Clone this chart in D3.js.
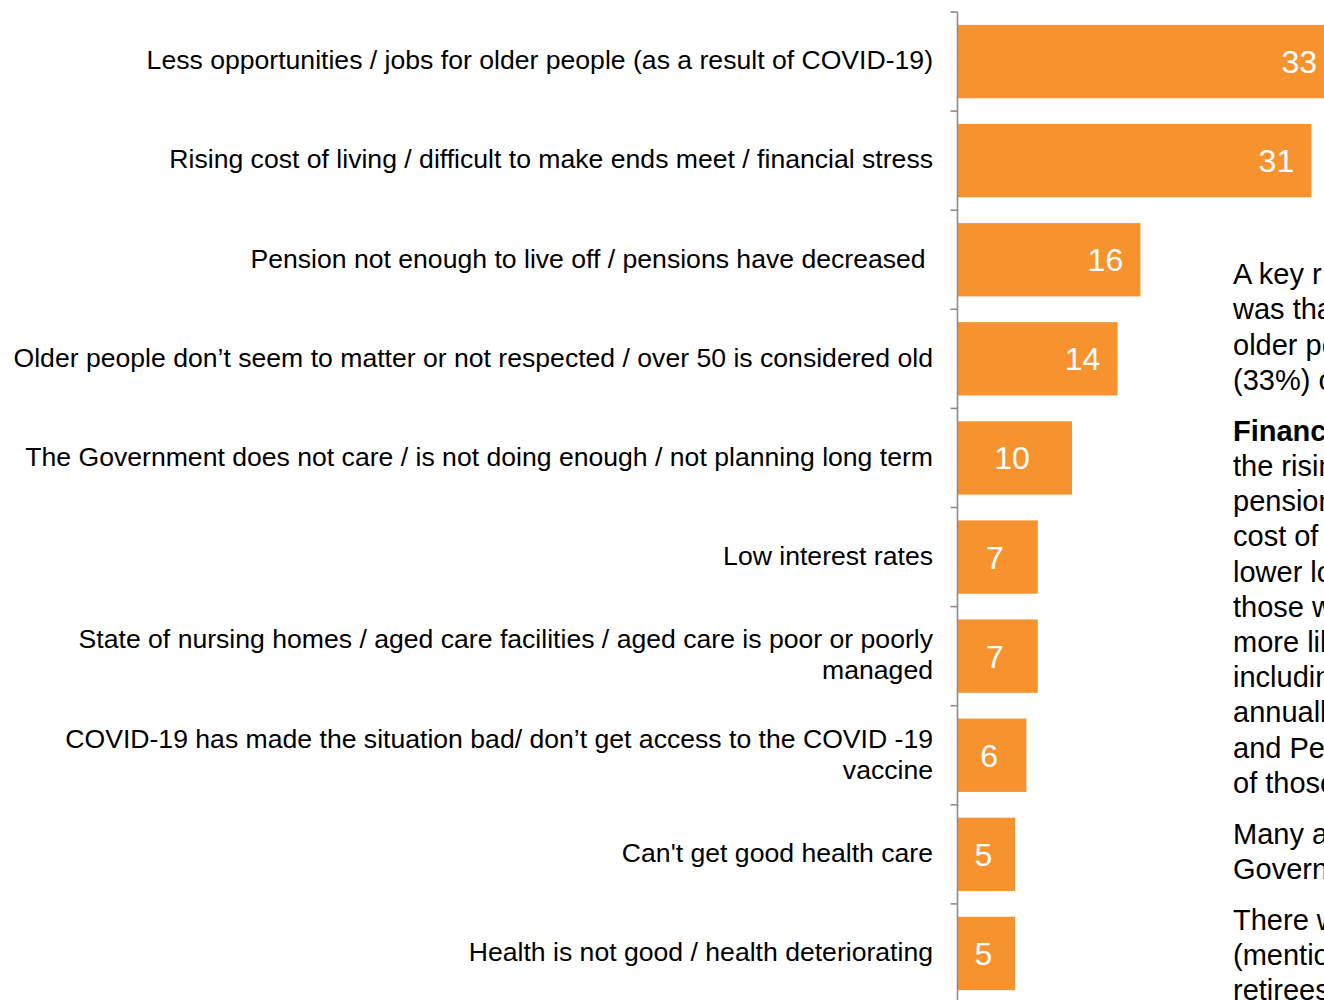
<!DOCTYPE html>
<html>
<head>
<meta charset="utf-8">
<script src="https://cdn.jsdelivr.net/npm/d3@7"></script>
<style>
  html, body { margin: 0; padding: 0; background: #fff; overflow: hidden; }
  svg { display: block; font-family: "Liberation Sans", Arial, sans-serif; }
</style>
</head>
<body>
<svg id="chart" width="1324" height="1000"></svg>
<script>
// Reasons mentioned (%), one entry per bar, top to bottom
const categories = [
  ["Less opportunities / jobs for older people (as a result of COVID-19)"],
  ["Rising cost of living / difficult to make ends meet / financial stress"],
  ["Pension not enough to live off / pensions have decreased\u00a0"],
  ["Older people don\u2019t seem to matter or not respected / over 50 is considered old"],
  ["The Government does not care / is not doing enough / not planning long term"],
  ["Low interest rates"],
  ["State of nursing homes / aged care facilities / aged care is poor or poorly", "managed"],
  ["COVID-19 has made the situation bad/ don\u2019t get access to the COVID -19", "vaccine"],
  ["Can't get good health care"],
  ["Health is not good / health deteriorating"]
];
const values = [33, 31, 16, 14, 10, 7, 7, 6, 5, 5];

// Commentary column to the right of the bars (runs into the page edge)
const noteLines = [
  {t: "A key r"}, {t: "was tha"}, {t: "older pe"}, {t: "(33%) o"},
  {t: "Financ", bold: true, gap: true}, {t: "the risin"}, {t: "pension"},
  {t: "cost of"}, {t: "lower lo"}, {t: "those w"},
  {t: "more lik"}, {t: "includin"}, {t: "annuall"},
  {t: "and Pe"}, {t: "of those"},
  {t: "Many a", gap: true}, {t: "Govern"},
  {t: "There w", gap: true}, {t: "(mentio"}, {t: "retirees"}
];

const svg = d3.select("#chart");
const barColor = "#F7932F";
const axisColor = "#8C8C8C";

const axisX = 957.5;
const y = d3.scaleBand()
  .domain(d3.range(categories.length))
  .range([12, 1003])
  .paddingInner(0.26)
  .paddingOuter(0.13);

const x = d3.scaleLinear().domain([0, 35]).range([958, 958 + 35 * 11.4]);

// Bars
svg.append("g").selectAll("rect")
  .data(values)
  .join("rect")
  .attr("x", x(0))
  .attr("y", (d, i) => y(i))
  .attr("width", d => x(d) - x(0))
  .attr("height", y.bandwidth())
  .attr("fill", barColor);

// Category axis: vertical line with ticks between categories
const axisG = svg.append("g");
axisG.append("line")
  .attr("x1", axisX).attr("x2", axisX)
  .attr("y1", 12).attr("y2", 1003)
  .attr("stroke", axisColor).attr("stroke-width", 1.6);
const tickYs = d3.range(categories.length + 1).map(i => 12 + i * y.step());
axisG.selectAll("line.tick")
  .data(tickYs)
  .join("line")
  .attr("class", "tick")
  .attr("x1", axisX - 7).attr("x2", axisX)
  .attr("y1", d => d).attr("y2", d => d)
  .attr("stroke", axisColor).attr("stroke-width", 1.6);

// Category labels, right-aligned, wrapped where needed
const lineH = 31;
const labelG = svg.append("g")
  .attr("font-size", 26.6)
  .attr("fill", "#000")
  .attr("text-anchor", "end");
categories.forEach((lines, i) => {
  const cy = y(i) + y.bandwidth() / 2 - 1.5;
  const t = labelG.append("text")
    .attr("x", 933)
    .attr("y", cy - (lines.length - 1) * lineH / 2)
    .style("white-space", "pre");
  lines.forEach((s, k) => {
    t.append("tspan")
      .attr("x", 933)
      .attr("dy", k === 0 ? "0.35em" : lineH)
      .text(s);
  });
});

// Value labels inside the bars
svg.append("g")
  .attr("font-size", 32)
  .attr("fill", "#fff")
  .attr("text-anchor", "middle")
  .selectAll("text")
  .data(values)
  .join("text")
  .attr("x", d => d >= 14 ? x(d) - 35 : (x(0) + x(d)) / 2 - 3)
  .attr("y", (d, i) => y(i) + y.bandwidth() / 2)
  .attr("dy", "0.36em")
  .text(d => d);

// Commentary text
const noteG = svg.append("g").attr("font-size", 29).attr("fill", "#000");
let ny = 274;
noteLines.forEach((l, i) => {
  if (i > 0) ny += l.gap ? 51 : 35.2;
  noteG.append("text")
    .attr("x", 1233)
    .attr("y", ny)
    .attr("dy", "0.35em")
    .attr("font-weight", l.bold ? "bold" : "normal")
    .text(l.t);
});
</script>
</body>
</html>
